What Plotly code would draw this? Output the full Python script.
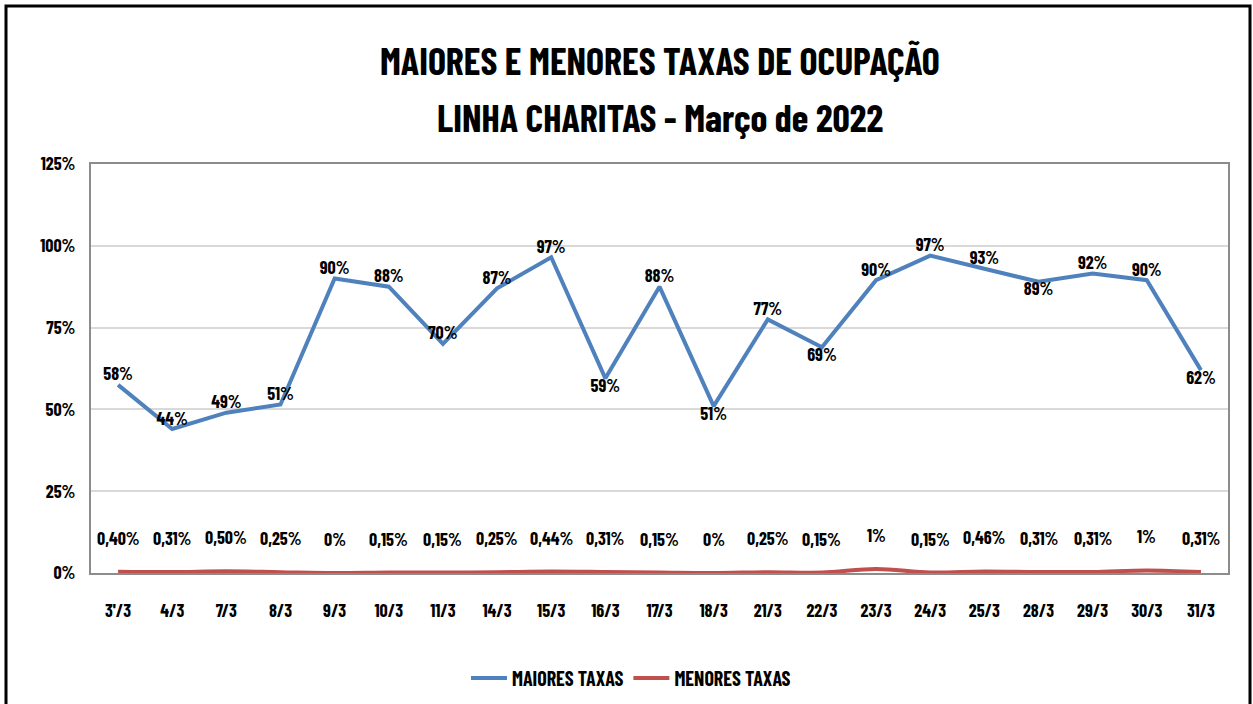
import plotly.graph_objects as go

categories = ["3'/3", "4/3", "7/3", "8/3", "9/3", "10/3", "11/3", "14/3", "15/3", "16/3", "17/3",
              "18/3", "21/3", "22/3", "23/3", "24/3", "25/3", "28/3", "29/3", "30/3", "31/3"]
maiores = [0.575, 0.44, 0.49, 0.515, 0.90, 0.875, 0.70, 0.87, 0.965, 0.595, 0.875,
           0.51, 0.775, 0.69, 0.895, 0.97, 0.93, 0.89, 0.915, 0.895, 0.62]
maiores_labels = ["58%", "44%", "49%", "51%", "90%", "88%", "70%", "87%", "97%", "59%", "88%",
                  "51%", "77%", "69%", "90%", "97%", "93%", "89%", "92%", "90%", "62%"]
menores = [0.0040, 0.0031, 0.0050, 0.0025, 0.0, 0.0015, 0.0015, 0.0025, 0.0044, 0.0031, 0.0015,
           0.0, 0.0025, 0.0015, 0.012, 0.0015, 0.0046, 0.0031, 0.0031, 0.008, 0.0031]
menores_labels = ["0,40%", "0,31%", "0,50%", "0,25%", "0%", "0,15%", "0,15%", "0,25%", "0,44%", "0,31%", "0,15%",
                  "0%", "0,25%", "0,15%", "1%", "0,15%", "0,46%", "0,31%", "0,31%", "1%", "0,31%"]
y_ticks = [0, 0.25, 0.5, 0.75, 1.0, 1.25]
y_tick_labels = ["0%", "25%", "50%", "75%", "100%", "125%"]
title_lines = ["MAIORES E MENORES TAXAS DE OCUPAÇÃO", "LINHA CHARITAS - Março de 2022"]

FONT = "Barlow Condensed, Sofia Sans Condensed, Roboto Condensed, Carlito, sans-serif"
BLUE = "#4F81BD"
RED = "#C0504D"
LBL = 18

label_pos = ["top center"] * len(categories)
for i in (9, 11, 13, 17, 20):
    label_pos[i] = "bottom center"

fig = go.Figure()
fig.add_trace(go.Scatter(
    x=categories, y=maiores, mode="lines+text", name="MAIORES TAXAS",
    line=dict(color=BLUE, width=4), text=maiores_labels, textposition=label_pos,
    textfont=dict(family=FONT, size=LBL, color="black", weight="bold"), cliponaxis=False,
))
fig.add_trace(go.Scatter(
    x=categories, y=menores, mode="lines", name="MENORES TAXAS",
    line=dict(color=RED, width=4, shape="spline"), cliponaxis=False,
))

annotations = []
for c, v, t in zip(categories, menores, menores_labels):
    annotations.append(dict(x=c, y=v, text=t, showarrow=False, yshift=34,
                            font=dict(family=FONT, size=LBL, color="black", weight="bold")))

W, H = 1253, 704
ml, mr, mt, mb = 91, 25, 164, H - 573
pw, ph = W - ml - mr, H - mt - mb

annotations.append(dict(xref="paper", yref="paper", x=0.5, y=(573 - 60) / ph, yanchor="middle",
                        text=title_lines[0], showarrow=False,
                        font=dict(family=FONT, size=38, color="black", weight="bold")))
annotations.append(dict(xref="paper", yref="paper", x=0.5, y=(573 - 117) / ph, yanchor="middle",
                        text=title_lines[1], showarrow=False,
                        font=dict(family=FONT, size=38, color="black", weight="bold")))

fig.update_layout(
    width=W, height=H,
    margin=dict(l=ml, r=mr, t=mt, b=mb, autoexpand=False),
    paper_bgcolor="white", plot_bgcolor="white",
    font=dict(family=FONT, size=LBL, color="black", weight="bold"),
    showlegend=True,
    legend=dict(orientation="h", x=(631 - ml) / pw, xanchor="center", y=(573 - 678) / ph, yanchor="middle",
                font=dict(family=FONT, size=20, color="black", weight="bold"), itemwidth=36,
                traceorder="normal"),
    annotations=annotations,
    shapes=[dict(type="rect", xref="paper", yref="paper",
                 x0=(6 - ml) / pw, x1=(1250 - ml) / pw, y0=(573 - 720) / ph, y1=(573 - 6) / ph,
                 line=dict(color="black", width=3), layer="below")],
)
fig.update_xaxes(
    type="category", range=[-0.5, len(categories) - 0.5],
    showline=True, linecolor="#8C8C8C", linewidth=2, mirror=True,
    showgrid=False, ticks="", ticklabelstandoff=20,
    tickfont=dict(family=FONT, size=LBL, color="black", weight="bold"),
)
fig.update_yaxes(
    range=[0, 1.25], tickvals=y_ticks, ticktext=y_tick_labels,
    showline=True, linecolor="#8C8C8C", linewidth=2, mirror=True,
    showgrid=True, gridcolor="#D9D9D9", gridwidth=2, zeroline=False, ticks="",
    ticklabelstandoff=10, tickfont=dict(family=FONT, size=LBL, color="black", weight="bold"),
)

fig.write_html("out.html", post_script="document.body.style.margin='0px';",
               config={"displayModeBar": False})
